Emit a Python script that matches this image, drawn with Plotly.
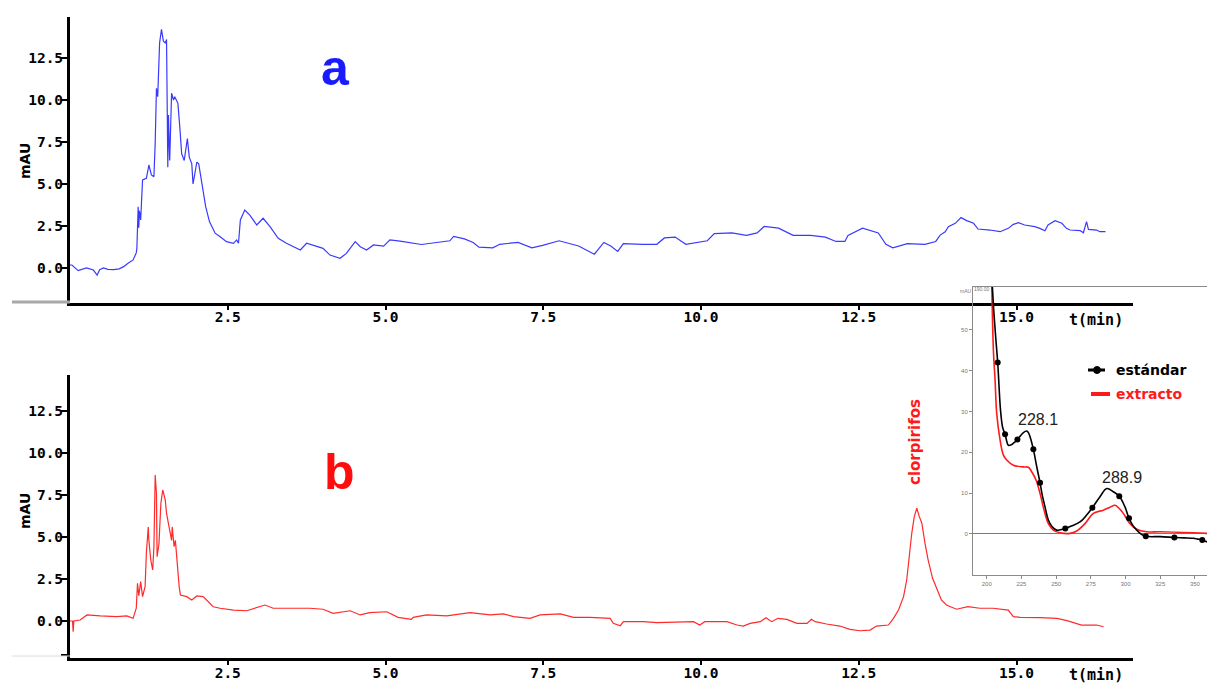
import plotly.graph_objects as go

W, H = 1207, 684

# ---------------- data ----------------
# chromatogram a (blue)
top_t = [0.00, 0.03, 0.13, 0.26, 0.37, 0.43, 0.47, 0.53, 0.60, 0.69, 0.78, 0.85, 0.92, 1.00, 1.05, 1.06, 1.08, 1.09, 1.10, 1.12,
         1.15, 1.18, 1.21, 1.25, 1.29, 1.33, 1.35, 1.37, 1.39, 1.42, 1.45, 1.48, 1.51, 1.53, 1.55, 1.56, 1.58, 1.61, 1.64, 1.66,
         1.69, 1.71, 1.74, 1.77, 1.81, 1.84, 1.86, 1.89, 1.93, 1.95, 1.98, 2.01, 2.04, 2.08, 2.11, 2.15, 2.21, 2.30, 2.38, 2.48,
         2.59, 2.64, 2.67, 2.70, 2.77, 2.85, 2.96, 3.06, 3.17, 3.30, 3.43, 3.59, 3.65, 3.75, 3.91, 4.01, 4.12, 4.28, 4.38, 4.52,
         4.60, 4.70, 4.81, 4.97, 5.07, 5.23, 5.57, 6.02, 6.08, 6.25, 6.39, 6.48, 6.70, 6.81, 7.10, 7.32, 7.49, 7.75, 8.06, 8.31,
         8.46, 8.57, 8.68, 8.77, 9.08, 9.30, 9.42, 9.59, 9.76, 10.10, 10.21, 10.49, 10.72, 10.89, 11.00, 11.23, 11.46, 11.74, 11.97, 12.14,
         12.28, 12.33, 12.56, 12.81, 12.93, 13.04, 13.27, 13.55, 13.72, 13.79, 13.87, 13.92, 14.03, 14.12, 14.21, 14.32, 14.39, 14.58, 14.74, 14.87,
         14.95, 15.03, 15.13, 15.29, 15.37, 15.45, 15.50, 15.61, 15.72, 15.79, 15.85, 16.01, 16.06, 16.11, 16.14, 16.27, 16.32, 16.41]
top_v = [0.18, 0.18, -0.16, 0.00, -0.12, -0.42, -0.10, 0.00, -0.08, -0.10, -0.05, 0.08, 0.28, 0.48, 0.90, 1.17, 3.65, 2.40, 3.40, 2.86,
         5.24, 5.30, 5.34, 6.13, 5.54, 5.43, 7.42, 10.70, 10.20, 13.40, 14.20, 13.50, 13.40, 13.60, 6.00, 9.10, 6.40, 10.40, 10.00, 10.20,
         10.00, 9.80, 8.40, 6.80, 6.40, 7.20, 7.70, 6.60, 6.20, 5.00, 5.60, 6.30, 6.20, 5.20, 4.45, 3.65, 2.76, 2.07, 1.86, 1.57,
         1.47, 1.67, 1.47, 2.86, 3.45, 3.15, 2.56, 2.96, 2.46, 1.77, 1.47, 1.17, 1.07, 1.47, 1.27, 1.17, 0.77, 0.58, 0.87, 1.57,
         1.27, 1.07, 1.37, 1.30, 1.67, 1.60, 1.40, 1.62, 1.88, 1.73, 1.52, 1.24, 1.20, 1.41, 1.52, 1.20, 1.35, 1.62, 1.31, 0.82,
         1.52, 1.31, 0.99, 1.45, 1.41, 1.41, 1.79, 1.84, 1.41, 1.62, 2.05, 2.09, 1.94, 2.09, 2.47, 2.37, 1.94, 1.94, 1.84, 1.58,
         1.58, 1.94, 2.37, 2.09, 1.41, 1.20, 1.45, 1.41, 1.58, 1.96, 2.16, 2.46, 2.66, 3.00, 2.82, 2.66, 2.32, 2.26, 2.16, 2.36,
         2.60, 2.70, 2.56, 2.46, 2.36, 2.22, 2.56, 2.82, 2.66, 2.36, 2.26, 2.22, 2.10, 2.76, 2.30, 2.26, 2.16, 2.16]

# chromatogram b (red)
bot_t = [0.00, 0.04, 0.05, 0.06, 0.16, 0.27, 0.48, 0.74, 0.90, 1.00, 1.05, 1.07, 1.09, 1.12, 1.15, 1.19, 1.21, 1.24, 1.25, 1.28,
         1.31, 1.33, 1.35, 1.37, 1.38, 1.41, 1.44, 1.47, 1.51, 1.53, 1.57, 1.61, 1.62, 1.65, 1.67, 1.70, 1.73, 1.75, 1.85, 1.93,
         2.01, 2.11, 2.19, 2.27, 2.38, 2.59, 2.80, 2.98, 3.09, 3.22, 3.49, 3.80, 4.01, 4.17, 4.44, 4.60, 4.75, 4.91, 5.02, 5.20,
         5.41, 5.44, 5.65, 5.97, 6.18, 6.34, 6.66, 6.87, 7.03, 7.29, 7.45, 7.77, 7.98, 8.24, 8.56, 8.61, 8.72, 8.77, 9.09, 9.30,
         9.88, 9.98, 10.06, 10.41, 10.57, 10.67, 10.78, 10.94, 11.03, 11.12, 11.22, 11.36, 11.52, 11.68, 11.75, 11.81, 11.99, 12.20, 12.36, 12.52,
         12.68, 12.78, 12.97, 13.05, 13.13, 13.21, 13.26, 13.29, 13.34, 13.38, 13.42, 13.46, 13.50, 13.55, 13.60, 13.67, 13.74, 13.81, 13.89, 14.05,
         14.23, 14.42, 14.63, 14.87, 14.95, 15.06, 15.37, 15.64, 15.80, 15.95, 16.03, 16.27, 16.38]
bot_v = [0.00, 0.00, -0.64, 0.00, 0.06, 0.36, 0.30, 0.26, 0.30, 0.16, 0.76, 2.24, 1.50, 2.34, 1.45, 2.04, 4.03, 5.60, 4.80, 3.63,
         3.04, 4.42, 8.69, 7.60, 3.83, 4.60, 7.00, 7.80, 7.20, 6.40, 5.60, 4.80, 5.60, 4.42, 4.80, 3.23, 2.04, 1.55, 1.45, 1.25,
         1.49, 1.45, 1.15, 0.85, 0.76, 0.65, 0.61, 0.85, 0.95, 0.76, 0.76, 0.76, 0.70, 0.46, 0.61, 0.36, 0.50, 0.55, 0.55, 0.22,
         0.10, 0.22, 0.36, 0.30, 0.42, 0.50, 0.36, 0.42, 0.26, 0.16, 0.36, 0.42, 0.22, 0.22, 0.16, -0.14, -0.28, -0.04, -0.04, -0.10,
         -0.04, -0.24, -0.04, -0.04, -0.24, -0.30, -0.14, -0.04, 0.20, -0.04, 0.16, 0.10, -0.14, -0.14, 0.10, -0.04, -0.18, -0.30, -0.50, -0.58,
         -0.54, -0.30, -0.24, 0.16, 0.65, 1.45, 2.44, 3.63, 5.22, 6.21, 6.71, 6.21, 5.82, 4.62, 3.63, 2.54, 1.85, 1.25, 0.95, 0.70,
         0.85, 0.76, 0.76, 0.65, 0.26, 0.22, 0.20, 0.16, 0.02, -0.14, -0.24, -0.24, -0.34]

# inset UV spectra
std_wl = [203.8, 205.0, 206.5, 207.9, 210.0, 211.5, 213.2, 215.6, 217.5, 219.2, 222.1, 226.4, 228.8, 230.0, 231.2, 233.6, 236.0, 238.4, 240.0, 242.0,
          244.4, 247.0, 250.4, 253.0, 256.6, 261.0, 267.2, 272.0, 276.1, 281.6, 286.5, 291.2, 295.5, 299.6, 302.5, 305.0, 308.1, 311.0, 314.6, 324.9,
          335.2, 342.0, 348.8, 352.0, 355.3, 358.7]
std_abs = [62.0, 55.0, 48.0, 42.0, 30.0, 26.0, 24.4, 21.7, 21.8, 22.2, 23.1, 24.8, 25.2, 24.8, 23.8, 20.7, 16.5, 12.5, 9.5, 6.6,
           3.4, 1.8, 0.9, 1.0, 1.3, 1.9, 2.9, 4.6, 6.4, 9.1, 11.1, 10.3, 9.2, 6.6, 3.8, 2.2, 0.9, 0.0, -0.6, -0.7,
           -0.9, -1.0, -1.1, -1.3, -1.5, -2.0]
std_mark_wl = [207.9, 213.2, 222.1, 233.6, 238.4, 256.6, 276.1, 295.5, 302.5, 314.6, 335.2, 355.3]
std_mark_abs = [42.0, 24.4, 23.1, 20.7, 12.5, 1.3, 6.4, 9.2, 3.8, -0.6, -0.9, -1.5]

ext_wl = [203.6, 204.8, 206.0, 207.2, 209.6, 212.0, 214.4, 219.2, 226.4, 230.0, 232.4, 235.5, 238.4, 241.3, 244.4, 248.0, 252.8, 260.0, 264.8, 270.8,
          276.8, 284.0, 288.8, 292.4, 295.5, 298.4, 303.2, 308.1, 315.3, 324.9, 348.8, 358.7]
ext_abs = [61.4, 45.0, 37.7, 29.5, 23.0, 19.3, 18.1, 16.8, 16.4, 16.3, 15.2, 13.2, 9.9, 5.8, 2.5, 0.9, 0.25, 0.1, 0.7, 2.5,
           5.0, 5.8, 6.5, 7.0, 6.2, 5.0, 2.5, 1.1, 0.5, 0.5, 0.25, 0.1]

x_ticks = [2.5, 5.0, 7.5, 10.0, 12.5, 15.0]
x_ticktext = ["2.5", "5.0", "7.5", "10.0", "12.5", "15.0"]
y_ticks = [-2.0, 0.0, 2.5, 5.0, 7.5, 10.0, 12.5]
y_ticktext = ["", "0.0", "2.5", "5.0", "7.5", "10.0", "12.5"]
inset_x_ticks = [200, 225, 250, 275, 300, 325, 350]
inset_y_ticks = [0, 10, 20, 30, 40, 50]

# ---------------- helpers ----------------
def px(x):
    return x / W

def py(y):
    return 1 - y / H

TICKFONT = dict(family="DejaVu Sans Mono", size=14.5, color="black", weight=700)

fig = go.Figure()

fig.add_trace(go.Scatter(x=top_t, y=top_v, mode="lines", line=dict(color="#3a3aff", width=1.2),
                         xaxis="x", yaxis="y", showlegend=False))
fig.add_trace(go.Scatter(x=bot_t, y=bot_v, mode="lines", line=dict(color="#ff2a2a", width=1.2),
                         xaxis="x2", yaxis="y2", showlegend=False))
fig.add_trace(go.Scatter(x=ext_wl, y=ext_abs, mode="lines", line=dict(color="#ff1a1a", width=1.6, shape="spline"),
                         xaxis="x3", yaxis="y3", showlegend=False))
fig.add_trace(go.Scatter(x=std_wl, y=std_abs, mode="lines", line=dict(color="black", width=1.6, shape="spline"),
                         xaxis="x3", yaxis="y3", showlegend=False))
fig.add_trace(go.Scatter(x=std_mark_wl, y=std_mark_abs, mode="markers", marker=dict(color="black", size=6),
                         xaxis="x3", yaxis="y3", showlegend=False))

xdom = [px(70), px(1133)]
xr = [0, (1133 - 70) / 63.1]

common_x = dict(showgrid=False, zeroline=False, showline=True, linecolor="black", linewidth=3,
                ticks="outside", ticklen=4, tickwidth=2, tickcolor="black",
                tickvals=x_ticks, ticktext=x_ticktext, tickfont=TICKFONT)
common_y = dict(showgrid=False, zeroline=False, showline=True, linecolor="black", linewidth=3,
                ticks="outside", ticklen=6, tickwidth=2, tickcolor="black",
                tickvals=y_ticks, ticktext=y_ticktext, tickfont=TICKFONT)

fig.update_layout(
    width=W, height=H, margin=dict(l=0, r=0, t=0, b=0),
    paper_bgcolor="white", plot_bgcolor="rgba(0,0,0,0)",
    xaxis=dict(domain=xdom, range=xr, anchor="y", **common_x),
    yaxis=dict(domain=[py(303), py(17)], range=[(268 - 303) / 16.8, (268 - 17) / 16.8], anchor="x", **common_y),
    xaxis2=dict(domain=xdom, range=xr, anchor="y2", **common_x),
    yaxis2=dict(domain=[py(658), py(375)], range=[(621 - 658) / 16.8, (621 - 375) / 16.8], anchor="x2", **common_y),
    xaxis3=dict(domain=[px(973), 1.0], range=[190.1, 358.7], anchor="y3", showgrid=False, zeroline=False,
                showline=True, linecolor="#8a8a8a", linewidth=1, mirror=True,
                ticks="outside", ticklen=3, tickcolor="#8a8a8a", tickvals=inset_x_ticks,
                tickfont=dict(family="Liberation Sans", size=6, color="#777")),
    yaxis3=dict(domain=[py(575), py(287)], range=[-10.1, 60.5], anchor="x3", showgrid=False,
                zeroline=True, zerolinecolor="#7a7a7a", zerolinewidth=1,
                showline=True, linecolor="#8a8a8a", linewidth=1,
                ticks="outside", ticklen=3, tickcolor="#8a8a8a", tickvals=inset_y_ticks,
                tickfont=dict(family="Liberation Sans", size=6, color="#777")),
)

# pull tick labels a little closer to the axes (as in the reference)
for ax, val in (("xaxis", -5), ("xaxis2", -4), ("yaxis", -5), ("yaxis2", -5)):
    try:
        fig.layout[ax].ticklabelstandoff = val
    except Exception:
        pass

ann = []
def add_text(text, x, y, size, color, family="DejaVu Sans", weight=700, angle=0, xanchor="center", yanchor="middle", xref="paper", yref="paper"):
    ann.append(dict(text=text, x=x, y=y, xref=xref, yref=yref, showarrow=False, textangle=angle,
                    xanchor=xanchor, yanchor=yanchor,
                    font=dict(family=family, size=size, color=color, weight=weight)))

add_text("mAU", px(25), py(161), 14, "black", angle=-90)
add_text("mAU", px(25), py(511), 14, "black", angle=-90)
add_text("a", px(335), py(68), 50, "#1a1aff", family="Liberation Sans")
add_text("b", px(339), py(472), 50, "#ff0d0d", family="Liberation Sans")
add_text("t(min)", px(1096), py(320), 15, "black", family="DejaVu Sans Mono")
add_text("t(min)", px(1096), py(675), 15, "black", family="DejaVu Sans Mono")
add_text("clorpirifos", px(915), py(442), 15, "#ff1a1a", angle=-90)
add_text("estándar", px(1114), py(370), 14, "black", xanchor="left")
add_text("extracto", px(1114), py(394), 14, "#ff1a1a", xanchor="left")
add_text("228.1", 237.0, 27.9, 16, "#222", family="Liberation Sans", weight=400, xref="x3", yref="y3")
add_text("288.9", 297.5, 13.9, 16, "#222", family="Liberation Sans", weight=400, xref="x3", yref="y3")
add_text("mAU", px(966), py(291), 5, "#777", family="Liberation Sans", weight=400)
add_text("190.00", px(982), py(289), 5, "#777", family="Liberation Sans", weight=400)
fig.update_layout(annotations=ann)

shapes = [
    # gray artefact lines at left of each x axis
    dict(type="line", xref="paper", yref="paper", x0=px(12), x1=px(70), y0=py(302), y1=py(302),
         line=dict(color="#a8a8a8", width=3)),
    dict(type="line", xref="paper", yref="paper", x0=px(12), x1=px(70), y0=py(656), y1=py(656),
         line=dict(color="#dcdcdc", width=1)),
    # legend samples
    dict(type="line", xref="paper", yref="paper", x0=px(1088), x1=px(1105), y0=py(370), y1=py(370),
         line=dict(color="black", width=3)),
    dict(type="circle", xref="paper", yref="paper", x0=px(1093.5), x1=px(1100.5), y0=py(366.5), y1=py(373.5),
         fillcolor="black", line=dict(color="black", width=1)),
    dict(type="line", xref="paper", yref="paper", x0=px(1091), x1=px(1110), y0=py(394), y1=py(394),
         line=dict(color="#ff1a1a", width=4)),
]
fig.update_layout(shapes=shapes)

fig.write_html("out.html")
